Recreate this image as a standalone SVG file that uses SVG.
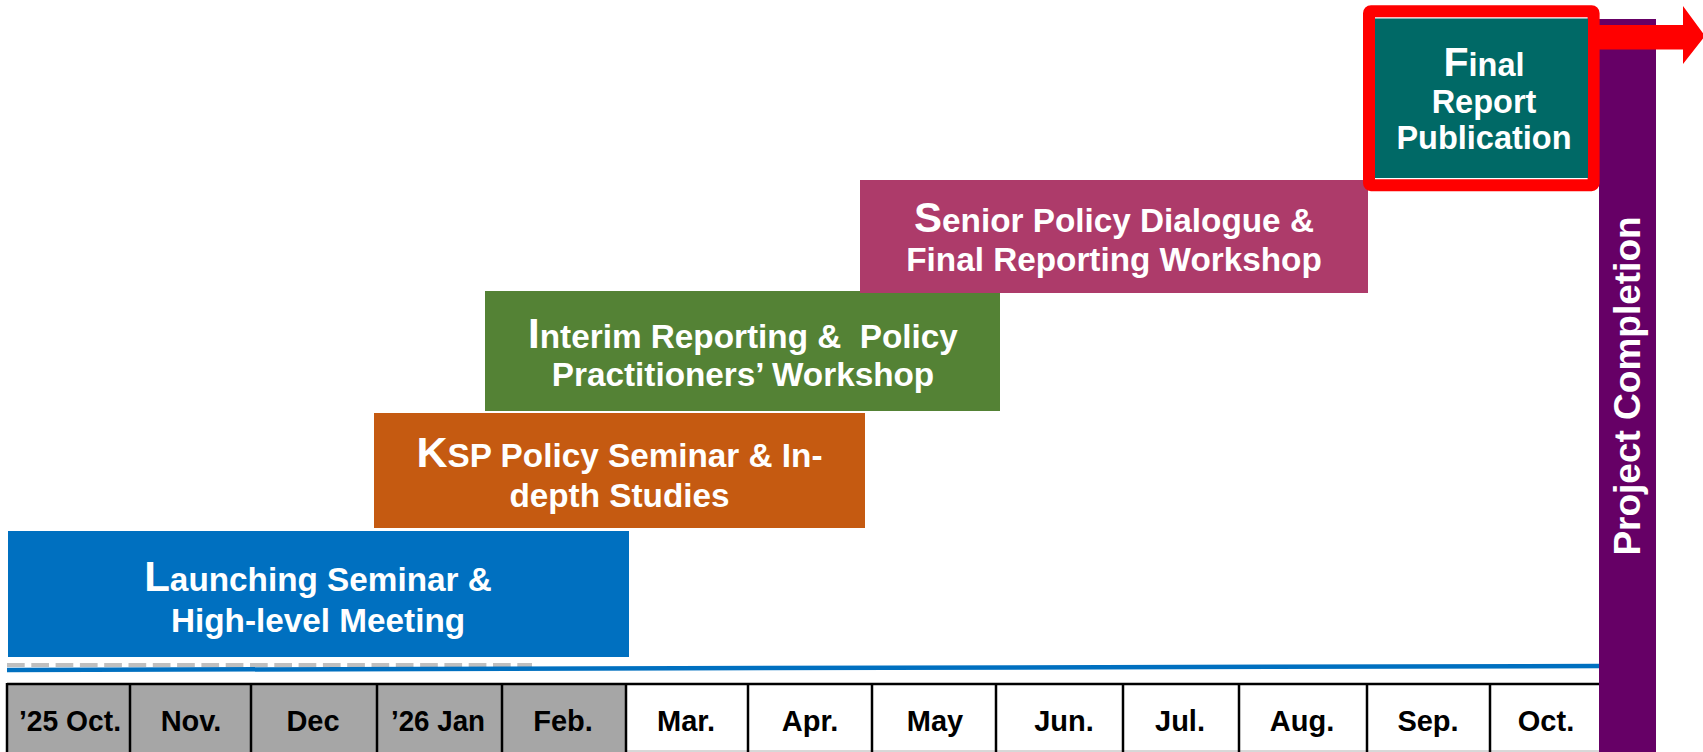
<svg xmlns="http://www.w3.org/2000/svg" width="1703" height="752" viewBox="0 0 1703 752">
<style>
.bt{font-family:"Liberation Sans",Arial,sans-serif;font-weight:bold;fill:#ffffff;font-size:33.3px;text-anchor:middle}
.big{font-size:42px}
.mt{font-family:"Liberation Sans",Arial,sans-serif;font-weight:bold;fill:#000000;font-size:29px;text-anchor:middle}
.cell{stroke:#000000;stroke-width:2.5}
</style>
<rect width="1703" height="752" fill="#ffffff"/>
<g id="timeline">
  <rect x="7" y="684" width="619" height="70" fill="#A6A6A6"/>
  <line x1="626" y1="751" x2="1600" y2="751" stroke="#B0B0B0" stroke-width="1"/>
  <line class="cell" x1="7" y1="684" x2="1600" y2="684"/>
  <g class="cell">
    <line x1="7" y1="683" x2="7" y2="752"/>
    <line x1="130" y1="684" x2="130" y2="752"/>
    <line x1="251" y1="684" x2="251" y2="752"/>
    <line x1="377" y1="684" x2="377" y2="752"/>
    <line x1="502" y1="684" x2="502" y2="752"/>
    <line x1="626" y1="684" x2="626" y2="752"/>
    <line x1="748" y1="684" x2="748" y2="752"/>
    <line x1="872" y1="684" x2="872" y2="752"/>
    <line x1="996" y1="684" x2="996" y2="752"/>
    <line x1="1123" y1="684" x2="1123" y2="752"/>
    <line x1="1239" y1="684" x2="1239" y2="752"/>
    <line x1="1367" y1="684" x2="1367" y2="752"/>
    <line x1="1490" y1="684" x2="1490" y2="752"/>
  </g>
  <text class="mt" x="70" y="731" textLength="102" lengthAdjust="spacingAndGlyphs">’25 Oct.</text>
  <text class="mt" x="191" y="731">Nov.</text>
  <text class="mt" x="313" y="731">Dec</text>
  <text class="mt" x="438" y="731" textLength="94" lengthAdjust="spacingAndGlyphs">’26 Jan</text>
  <text class="mt" x="563" y="731">Feb.</text>
  <text class="mt" x="686" y="731">Mar.</text>
  <text class="mt" x="810" y="731">Apr.</text>
  <text class="mt" x="935" y="731">May</text>
  <text class="mt" x="1064" y="731">Jun.</text>
  <text class="mt" x="1180" y="731">Jul.</text>
  <text class="mt" x="1302" y="731">Aug.</text>
  <text class="mt" x="1428" y="731">Sep.</text>
  <text class="mt" x="1546" y="731">Oct.</text>
</g>
<g id="connectors">
  <line x1="7" y1="665" x2="532" y2="665" stroke="#BFBFBF" stroke-width="4" stroke-dasharray="17.7 6.6"/>
  <line x1="7" y1="670" x2="1600" y2="666" stroke="#0070C0" stroke-width="4.5"/>
</g>
<g id="project-completion">
  <rect x="1599" y="19" width="57" height="733" fill="#660066"/>
  <text class="bt" style="font-size:37px" transform="translate(1640,386) rotate(-90)" x="0" y="0">Project Completion</text>
</g>
<g id="arrow">
  <path d="M1599,25 H1683 V6 L1705,36 L1683,64 V49.5 H1599 Z" fill="#FF0000"/>
</g>
<g id="launching">
  <rect x="8" y="531" width="621" height="126" fill="#0070C0"/>
  <text class="bt" x="318" y="591"><tspan class="big">L</tspan>aunching Seminar &amp;</text>
  <text class="bt" x="318" y="632">High-level Meeting</text>
</g>
<g id="ksp">
  <rect x="374" y="413" width="491" height="115" fill="#C55A11"/>
  <text class="bt" x="619.5" y="467"><tspan style="font-size:43px">K</tspan>SP Policy Seminar &amp; In-</text>
  <text class="bt" x="619.5" y="507">depth Studies</text>
</g>
<g id="interim">
  <rect x="485" y="291" width="515" height="120" fill="#548235"/>
  <text class="bt" x="743" y="348" style="white-space:pre"><tspan class="big">I</tspan>nterim Reporting &amp;  Policy</text>
  <text class="bt" x="743" y="386">Practitioners’ Workshop</text>
</g>
<g id="senior">
  <rect x="860" y="180" width="508" height="113" fill="#AD3B6A"/>
  <text class="bt" x="1114" y="232"><tspan class="big">S</tspan>enior Policy Dialogue &amp;</text>
  <text class="bt" x="1114" y="271">Final Reporting Workshop</text>
</g>
<g id="final-report">
  <rect x="1369" y="11.2" width="224.6" height="174" rx="2" fill="none" stroke="#FF0000" stroke-width="12"/>
  <rect x="1375" y="18.5" width="213" height="159.5" fill="#006966"/>
  <text class="bt" style="font-size:32.5px" x="1484" y="76"><tspan style="font-size:41px">F</tspan>inal</text>
  <text class="bt" style="font-size:32.5px" x="1484" y="113">Report</text>
  <text class="bt" style="font-size:32.5px" x="1484" y="149">Publication</text>
</g>
</svg>
